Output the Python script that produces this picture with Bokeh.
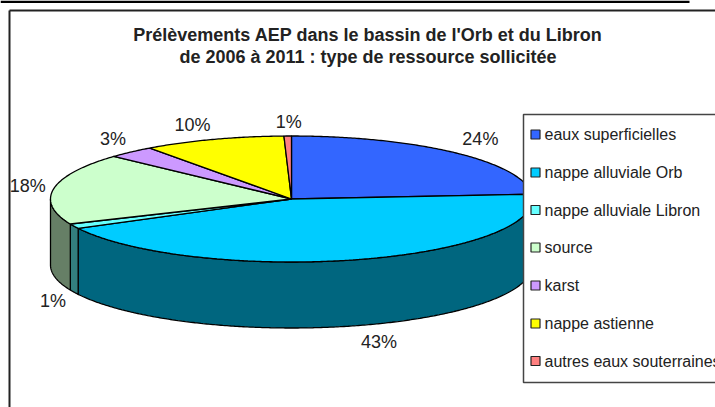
import numpy as np
from bokeh.plotting import figure
from bokeh.embed import file_html
from bokeh.resources import INLINE
from bokeh.core.properties import value

title_lines = ["Prélèvements AEP dans le bassin de l'Orb et du Libron",
               "de 2006 à 2011 : type de ressource sollicitée"]
categories = ["eaux superficielles", "nappe alluviale Orb", "nappe alluviale Libron",
              "source", "karst", "nappe astienne", "autres eaux souterraines"]
shares = [23.8, 43.5, 1.2, 18.3, 3.2, 9.5, 0.5]
percent_labels = ["24%", "43%", "1%", "18%", "3%", "10%", "1%"]
colors = ["#3366FF", "#00CCFF", "#66FFFF", "#CCFFCC", "#CC99FF", "#FFFF00", "#FF8080"]

# geometry of the 3D pie, in page pixels
CX, CY, RX, RY, DEPTH = 291, 198.5, 241, 63, 66
label_nudge = [(25, -14), (21, 82), (-21, 75), (-26, -3), (-18, -13), (-21, -14), (1, -14)]
FONT = "Liberation Sans"

p = figure(width=715, height=407, x_range=(0, 715), y_range=(407, 0),
           output_backend="svg", toolbar_location=None, min_border=0,
           x_axis_location=None, y_axis_location=None, outline_line_color=None)
p.grid.visible = False
p.background_fill_color = "white"
p.border_fill_color = "white"


def ell(a):
    a = np.radians(a)
    return CX + RX * np.sin(a), CY - RY * np.cos(a)


def shade(c):
    return "#" + "".join(f"{int(c[i:i+2], 16) // 2:02x}" for i in (1, 3, 5))


# page furniture
p.quad(left=0, right=689, top=0, bottom=2.5, fill_color="black", line_color=None)
p.multi_line(xs=[[9, 9], [9, 715]], ys=[[407, 10], [10, 10]], line_color="#222222", line_width=2)

# slices
edges = np.cumsum([0] + shares) / sum(shares) * 360
side_xs, side_ys, side_cols = [], [], []
top_xs, top_ys, top_cols = [], [], []
for i, c in enumerate(colors):
    a0, a1 = edges[i], edges[i + 1]
    arc = np.linspace(a0, a1, max(int(a1 - a0) * 2, 4))
    x, y = ell(arc)
    top_xs.append([CX] + list(x))
    top_ys.append([CY] + list(y))
    top_cols.append(c)
    lo, hi = max(a0, 90), min(a1, 270)
    if hi > lo:
        sa = np.linspace(lo, hi, max(int(hi - lo) * 2, 4))
        sx, sy = ell(sa)
        side_xs.append(list(sx) + list(sx[::-1]))
        side_ys.append(list(sy) + list((sy + DEPTH)[::-1]))
        side_cols.append(shade(c))

p.patches(side_xs, side_ys, fill_color=side_cols, line_color="black", line_width=1.3)
p.patches(top_xs, top_ys, fill_color=top_cols, line_color="black", line_width=1.3)

# percentage labels
mids = (edges[:-1] + edges[1:]) / 2
ax, ay = ell(mids)
p.text(x=[a + n[0] for a, n in zip(ax, label_nudge)],
       y=[a + n[1] for a, n in zip(ay, label_nudge)],
       text=percent_labels, text_font=value(FONT), text_font_size="18px",
       text_align="center", text_baseline="middle", text_color="#222222")

# title
p.text(x=[367.5, 367.5], y=[34, 56], text=title_lines, text_font=value(FONT), text_font_size="18px",
       text_font_style="bold", text_align="center", text_baseline="middle", text_color="#222222")

# legend
p.quad(left=523, right=715, top=114, bottom=382, fill_color="white", line_color=None)
p.multi_line(xs=[[715, 523, 523, 715]], ys=[[114, 114, 382, 382]], line_color="#444444", line_width=1.5)
ly = [134, 172, 209.5, 247, 285, 323, 360.5]
p.quad(left=[530.5] * 7, right=[539.5] * 7, top=[v - 4.5 for v in ly], bottom=[v + 4.5 for v in ly],
       fill_color=colors, line_color="#222222", line_width=1.2)
p.text(x=[544] * 7, y=ly, text=categories, text_font=value(FONT), text_font_size="16px",
       text_align="left", text_baseline="middle", text_color="#222222")

open("out.html", "w").write(file_html(p, INLINE))
